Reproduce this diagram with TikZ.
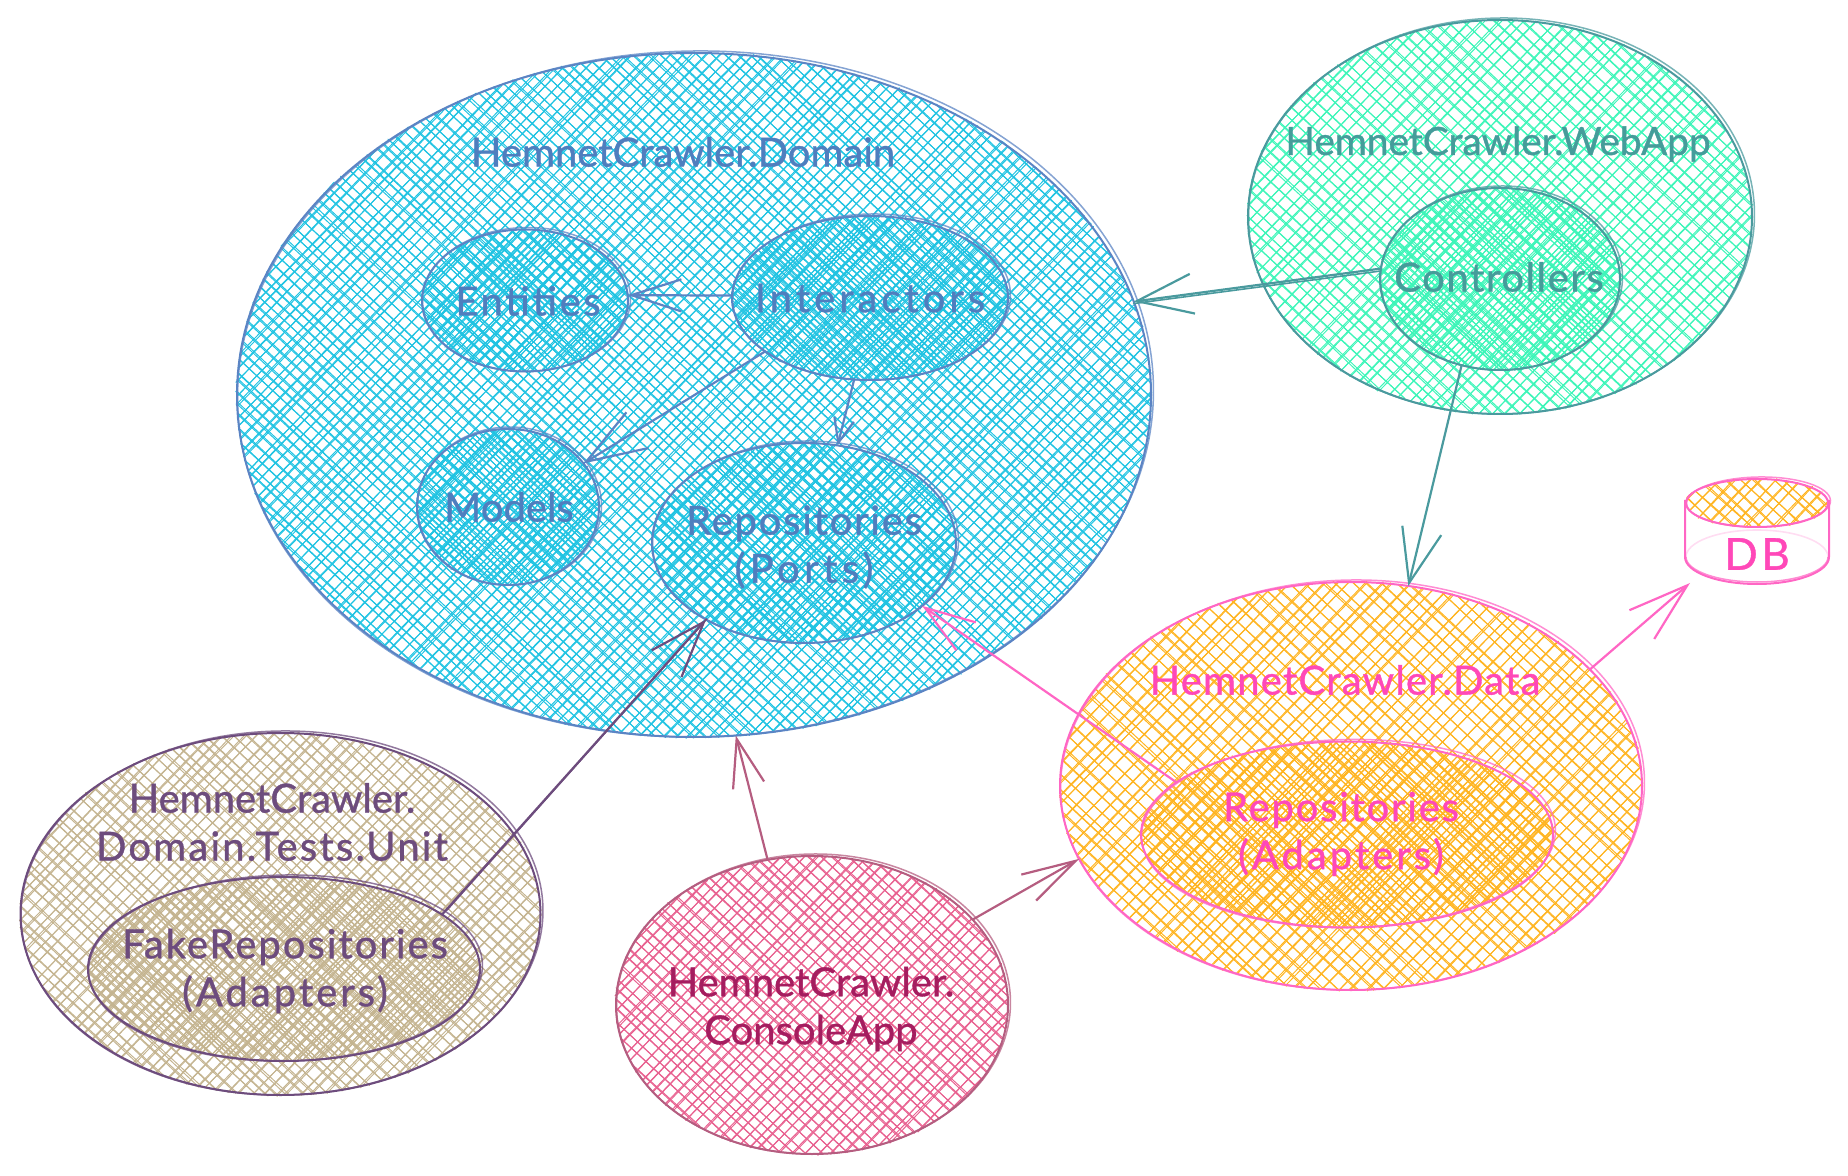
\documentclass[tikz,border=0pt]{standalone}
\usepackage{fontspec}
\setmainfont{Lato}[FakeBold=0.9]
\usetikzlibrary{arrows.meta,shapes.geometric}
\definecolor{domS}{HTML}{5B84C4}\definecolor{domH}{HTML}{1FC3E2}\definecolor{domT}{HTML}{4F7EBE}
\definecolor{webS}{HTML}{4A9A9E}\definecolor{webH}{HTML}{3CF5B8}\definecolor{webT}{HTML}{459C9A}
\definecolor{datS}{HTML}{FF66C4}\definecolor{datH}{HTML}{FFB420}\definecolor{datT}{HTML}{FF48B8}
\definecolor{uniS}{HTML}{6D4C7D}\definecolor{uniH}{HTML}{C4B490}
\definecolor{conS}{HTML}{B55D80}\definecolor{conH}{HTML}{E8608F}\definecolor{conT}{HTML}{A51D5F}
\newcommand\ls[1]{\addfontfeature{LetterSpace=#1}}
\tikzset{
  ovalnode/.style={ellipse,inner sep=0pt,outer sep=0pt,line width=1pt},
  ovalextra/.style={line width=.75pt,opacity=.75},
  hatchline/.style={line width=.48pt,line cap=round},
  lab/.style={font=\fontsize{20}{24}\selectfont,inner sep=0pt,align=center},
  conn/.style 2 args={line width=1.1pt,line cap=round,-{Straight Barb[length=#1pt,width=#2pt]}},
  connb/.style={line width=.8pt,line cap=round},
}
\newcommand\skhatch[6]{%
  \foreach \ang in {43,134}{%
    \pgfmathsetmacro\dx{cos(\ang)}\pgfmathsetmacro\dy{sin(\ang)}%
    \pgfmathsetmacro\rr{#4/#3}%
    \pgfmathsetmacro\hh{#3*sqrt(\dy*\dy+\rr*\rr*\dx*\dx)}%
    \pgfmathtruncatemacro\nn{2*\hh/#6}%
    \foreach \i in {0,...,\nn}{%
      \pgfmathsetmacro\off{-\hh+(\i+0.5)*#6+(rnd-0.5)*#6*0.5}%
      \pgfmathsetmacro\qx{\dx*#4/#3}\pgfmathsetmacro\qy{\dy}%
      \pgfmathsetmacro\px{-\off*\dy/#3}\pgfmathsetmacro\py{\off*\dx/#4}%
      \pgfmathsetmacro\AA{\qx*\qx+\qy*\qy}%
      \pgfmathsetmacro\BB{\px*\qx+\py*\qy}%
      \pgfmathsetmacro\CC{\px*\px+\py*\py-1}%
      \pgfmathsetmacro\DD{\BB*\BB-\AA*\CC}%
      \ifdim\DD pt>0.001pt
        \pgfmathsetmacro\ta{(-\BB-sqrt(\DD))/\AA*#4}%
        \pgfmathsetmacro\tb{(-\BB+sqrt(\DD))/\AA*#4}%
        \pgfmathsetmacro\ox{#1-\off*\dy}\pgfmathsetmacro\oy{#2+\off*\dx}%
        \foreach \st in {1,2}{%
          \pgfmathsetmacro\xa{\ox+\ta*\dx+(rnd-0.5)*2.6}%
          \pgfmathsetmacro\ya{\oy+\ta*\dy+(rnd-0.5)*2.6}%
          \pgfmathsetmacro\xb{\ox+\tb*\dx+(rnd-0.5)*2.6}%
          \pgfmathsetmacro\yb{\oy+\tb*\dy+(rnd-0.5)*2.6}%
          \draw[hatchline,draw=#5] (\xa,\ya) -- (\xb,\yb);%
        }%
      \fi
    }%
  }%
}
% name cx cy rx ry stroke hatch gap
\newcommand\skoval[8]{%
  \skhatch{#2}{#3}{#4}{#5}{#7}{#8}%
  \node[ovalnode,draw=#6,minimum width=#4pt,minimum height=#5pt] (#1) at (#2,#3) {};%
  \draw[ovalextra,draw=#6] (#2+1.5,#3-1) ellipse [x radius=#4+1,y radius=#5+1,rotate=1];%
}
\begin{document}
\begin{tikzpicture}[x=0.5pt,y=-0.5pt]
\pgfmathsetseed{11}
\useasboundingbox (0,0) rectangle (1848,1176);
% ovals
\skoval{domain}{694}{395}{457}{342}{domS}{domH}{8.5}
\skoval{entities}{525}{300.5}{103}{71}{domS}{domH}{8.5}
\skoval{interactors}{870}{298}{138}{82}{domS}{domH}{8.5}
\skoval{models}{508}{507}{91}{78}{domS}{domH}{8.5}
\skoval{ports}{804}{543}{152}{100}{domS}{domH}{8.5}
\skoval{webapp}{1500}{217}{252}{197}{webS}{webH}{10}
\skoval{controllers}{1500}{279}{120}{91}{webS}{webH}{8}
\skoval{data}{1351}{786}{291}{204}{datS}{datH}{10.5}
\skoval{adapters}{1347}{834.5}{206}{93}{datS}{datH}{9.5}
\skoval{unit}{280.5}{914}{260}{181}{uniS}{uniH}{9}
\skoval{fake}{284}{969}{196}{92}{uniS}{uniH}{8}
\skoval{console}{812}{1005}{196}{149}{conS}{conH}{9}
% DB cylinder
\skoval{dbtop}{1757}{503}{71}{24}{datS}{datH}{10}
\draw[line width=1pt,draw=datS] (1685,500) -- (1685,557) arc[start angle=180,end angle=0,x radius=72,y radius=27] -- (1829,500);
\draw[ovalextra,draw=datS] (1686,557) arc[start angle=180,end angle=0,x radius=71,y radius=25];
\draw[line width=.8pt,draw=datS,opacity=.22] (1686,557) arc[start angle=180,end angle=360,x radius=71,y radius=27];
\coordinate (dbtip) at (1690,583);
% connectors
\draw[conn={25}{16},draw=domS] (interactors.179) -- (entities.3);
\draw[conn={30}{21},draw=domS] (interactors.207.2) -- (models.30.5);
\draw[conn={12}{10},draw=domS] (interactors.259) -- (ports.71.4);
\draw[conn={28}{20},draw=webS] (controllers.175.2) -- (domain.12.4);
\draw[connb,draw=webS] ([yshift=-1.2pt]controllers.175.2) -- ([yshift=-1pt]domain.12.4);
\draw[conn={27}{20},draw=webS] (controllers.246.8) -- (data.74.5);
\draw[conn={28}{20},draw=uniS] (fake.19.3) -- (ports.218.3);
\draw[connb,draw=uniS] ([shift={(2.4pt,2.2pt)}]fake.19.3) -- ([shift={(.3pt,.3pt)}]ports.218.3);
\draw[conn={25}{17},draw=datS] (adapters.163.7) -- (ports.332.5);
\draw[conn={24}{16},draw=conS] (console.107.4) -- (domain.277.9);
\draw[conn={27}{15},draw=conS] (console.28.8) -- (data.195.8);
\draw[conn={30}{19},draw=datS] (data.26) -- (dbtip);
% labels
\node[lab,text=domT] (tdomain) at (683,152) {HemnetCrawler.Domain};
\node[lab,text=domT] (tentities) at (528,301) {\ls{6.5}Entities};
\node[lab,text=domT] (tinter) at (870,298) {\ls{10}Interactors};
\node[lab,text=domT] (tmodels) at (509,507) {Models};
\node[lab,text=domT] (tports) at (804,547) {{\ls{4.4}Repositories}\\{\ls{11}(Ports)}};
\node[lab,text=webT,font=\fontsize{19.4}{24}\selectfont] (tweb) at (1498,144) {HemnetCrawler.WebApp};
\node[lab,text=webT] (tctrl) at (1499,277) {\ls{4}Controllers};
\node[lab,text=datT] (tdata) at (1345,680) {\ls{3}HemnetCrawler.Data};
\node[lab,text=datT] (tadapt) at (1341,834) {{\ls{4.4}Repositories}\\{\ls{7.5}(Adapters)}};
\node[lab,text=uniS] (tunit) at (272,822) {HemnetCrawler.\\{\ls{5.5}Domain.Tests.Unit}};
\node[lab,text=uniS] (tfake) at (285,971) {{\ls{5}FakeRepositories}\\{\ls{7.5}(Adapters)}};
\node[lab,text=conT] (tcons) at (811,1009) {HemnetCrawler.\\ConsoleApp};
\node[lab,text=datT,font=\fontsize{22}{24}\selectfont] (tdb) at (1757,554) {\ls{8}DB};
\end{tikzpicture}
\end{document}
